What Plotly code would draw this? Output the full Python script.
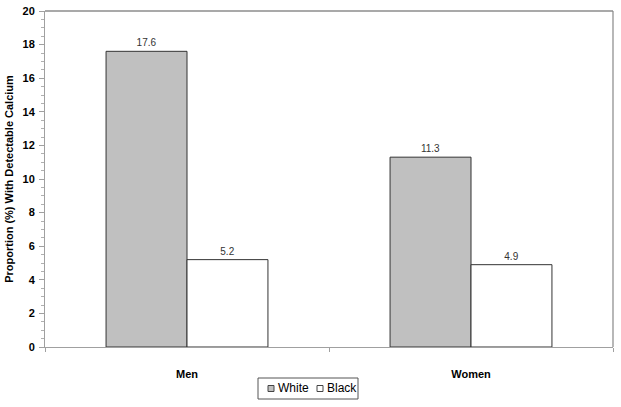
import plotly.graph_objects as go

categories = ["Men", "Women"]
series_names = ["White", "Black"]
white_vals = [17.6, 11.3]
black_vals = [5.2, 4.9]
y_ticks = [0, 2, 4, 6, 8, 10, 12, 14, 16, 18, 20]

FONT = "Liberation Sans, Arial, sans-serif"
W, H = 621, 407
ML, MR, MT, MB = 45, 8, 11, 60
PW, PH = W - ML - MR, H - MT - MB
fills = ["#c0c0c0", "#ffffff"]


def px_x(x):
    return (x - ML) / PW


def px_y(y):
    return (H - MB - y) / PH


fig = go.Figure()
for name, vals, fill in zip(series_names, [white_vals, black_vals], fills):
    fig.add_trace(go.Bar(
        name=name, x=categories, y=vals,
        marker=dict(color=fill, line=dict(color="#333333", width=1)),
        text=[f"{v:.1f}" for v in vals], textposition="outside",
        textfont=dict(size=10, color="#333333", family=FONT), cliponaxis=False,
    ))

shapes = [
    dict(type="line", xref="paper", yref="paper", x0=0, x1=1, y0=1, y1=1,
         line=dict(color="#555555", width=1.2)),
    dict(type="line", xref="paper", yref="paper", x0=1, x1=1, y0=0, y1=1,
         line=dict(color="#888888", width=1.2)),
    # legend box
    dict(type="rect", xref="paper", yref="paper",
         x0=px_x(258), x1=px_x(358), y0=px_y(399), y1=px_y(378),
         line=dict(color="#555555", width=1), fillcolor="white"),
]
annotations = []
sw_x = [268, 317]
for sx, name, fill in zip(sw_x, series_names, fills):
    shapes.append(dict(type="rect", xref="paper", yref="paper",
                       x0=px_x(sx), x1=px_x(sx + 6), y0=px_y(391.5), y1=px_y(385.5),
                       line=dict(color="#444444", width=1), fillcolor=fill))
    annotations.append(dict(text=name, xref="paper", yref="paper",
                            x=px_x(sx + 8), y=px_y(388.5), xanchor="left", yanchor="middle",
                            showarrow=False,
                            font=dict(size=12, family=FONT, color="#000000")))

fig.update_layout(
    width=W, height=H,
    margin=dict(l=ML, r=MR, t=MT, b=MB),
    paper_bgcolor="white", plot_bgcolor="white",
    barmode="group", bargap=0.43, bargroupgap=0,
    font=dict(family=FONT, color="#000000"),
    showlegend=False,
    xaxis=dict(
        showline=True, linecolor="#a0a0a0", linewidth=1,
        ticks="outside", tickson="boundaries", ticklen=4, tickcolor="#a0a0a0",
        ticklabelstandoff=17,
        tickfont=dict(size=11, family=FONT, color="#000000", weight="bold"),
        showgrid=False, automargin=False,
    ),
    yaxis=dict(
        range=[0, 20], tickvals=y_ticks,
        showline=True, linecolor="#a0a0a0", linewidth=1,
        ticks="outside", ticklen=5, tickcolor="#a0a0a0",
        ticklabelstandoff=2,
        minor=dict(dtick=0.5, ticks="outside", ticklen=3, tickcolor="#b0b0b0"),
        tickfont=dict(size=11, family=FONT, color="#000000", weight="bold"),
        showgrid=False, zeroline=False, automargin=False,
        title=dict(text="Proportion (%) With Detectable Calcium", standoff=6,
                   font=dict(size=11, family=FONT, color="#000000", weight="bold")),
    ),
    shapes=shapes,
    annotations=annotations,
)

fig.write_html("out.html", config={"displayModeBar": False},
               post_script="document.body.style.margin='0';")
